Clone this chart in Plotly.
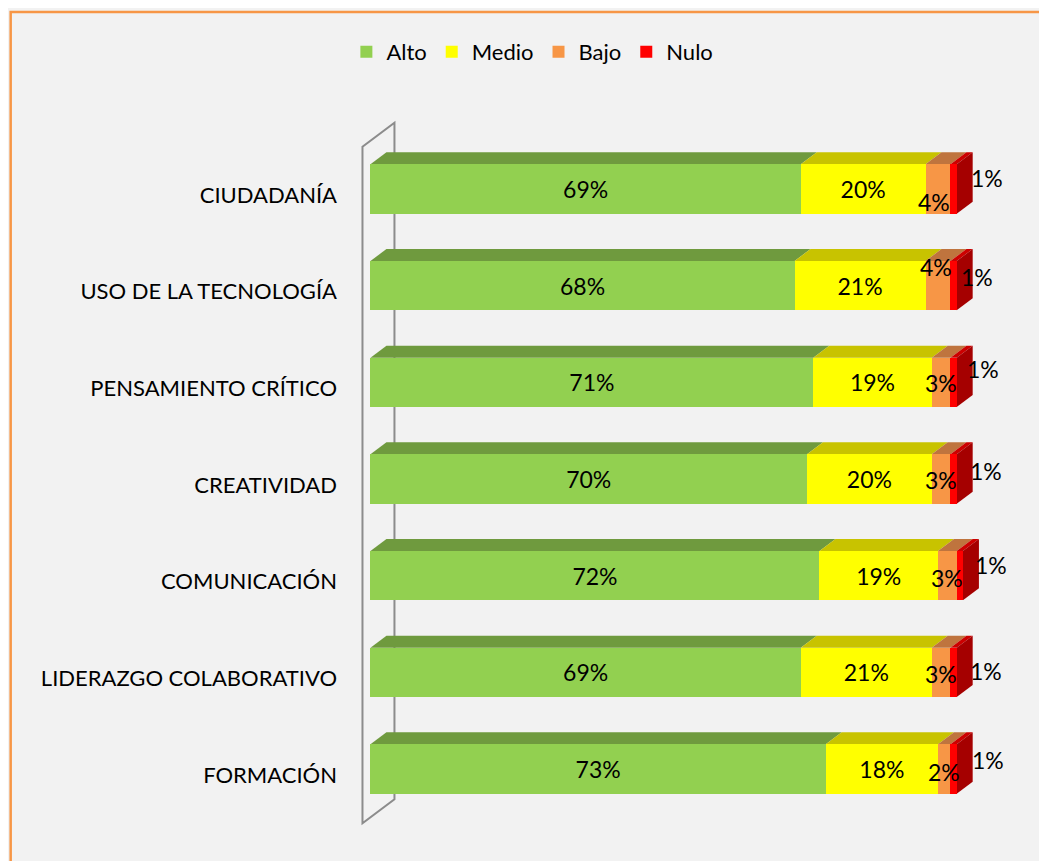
import plotly.graph_objects as go

# data (bottom to top, as drawn)
categories = ["FORMACIÓN", "LIDERAZGO COLABORATIVO", "COMUNICACIÓN", "CREATIVIDAD",
              "PENSAMIENTO CRÍTICO", "USO DE LA TECNOLOGÍA", "CIUDADANÍA"]
alto = [73, 69, 72, 70, 71, 68, 69]
medio = [18, 21, 19, 20, 19, 21, 20]
bajo = [2, 3, 3, 3, 3, 4, 4]
nulo = [1, 1, 1, 1, 1, 1, 1]

series = [("Alto", alto, "#92d050", "#6f9a3e"),
          ("Medio", medio, "#ffff00", "#c8c300"),
          ("Bajo", bajo, "#f79646", "#bf743e"),
          ("Nulo", nulo, "#ff0000", "#cc0000")]
SIDE_COLOR = "#a50000"

# page geometry (pixels); the page body adds an 8px margin
OFF = 8
W, H = 1047, 861 - OFF
X0_PX, PPU = 370 - OFF, 6.24    # where 0% sits, pixels per percent
XMIN, XMAX = -2, 108
TICK0_PX, PPY = 775 - OFF, 96.67  # first category position, pixels per category
YMIN, YMAX = -0.6, 6.9

ml = X0_PX + XMIN * PPU
pw = (XMAX - XMIN) * PPU
mr = W - ml - pw
mb = H - (TICK0_PX - YMIN * PPY)
ph = (YMAX - YMIN) * PPY
mt = H - mb - ph

# 3d depth of the wall and of the bars, in data units
WDX, WDY = 32 / PPU, 24 / PPY
BDX, BDY = WDX / 2, WDY / 2
BAR_W = 0.51
pos = list(range(len(categories)))
ybar = [p + WDY / 4 for p in pos]

FONT = "Lato, Calibri, sans-serif"

fig = go.Figure()
for name, vals, col, _ in series:
    show_txt = name in ("Alto", "Medio")
    fig.add_trace(go.Bar(
        y=ybar, x=vals, orientation="h", name=name, width=BAR_W,
        marker=dict(color=col, line=dict(width=0)),
        text=[f"{v}%" for v in vals] if show_txt else None,
        textposition="inside" if show_txt else "none",
        insidetextanchor="middle", constraintext="none",
        textfont=dict(size=23, color="black", family=FONT),
        hoverinfo="skip",
    ))

def to_paper(px, py):
    px, py = px - OFF, py - OFF
    return (px - ml) / pw, (H - mb - py) / ph

shapes = []
# chart area background with orange border
bx0, by1 = to_paper(10, 12)
bx1, by0 = to_paper(1070, 880)
shapes.append(dict(type="rect", xref="paper", yref="paper", x0=bx0, x1=bx1, y0=by0, y1=by1,
                   fillcolor="#f2f2f2", line=dict(color="#f79646", width=2.5), layer="below"))

# left wall
fx = -WDX / 4
yl, yh = -0.5, len(categories) - 0.5
wall = (f"M{fx},{yl} L{fx},{yh} L{fx + WDX},{yh + WDY} "
        f"L{fx + WDX},{yl + WDY} Z")
shapes.append(dict(type="path", xref="x", yref="y", path=wall,
                   line=dict(color="#8c8c8c", width=2), layer="below"))

# top faces and right side of each bar
for i, yc in enumerate(ybar):
    yt, yb = yc + BAR_W / 2, yc - BAR_W / 2
    start = 0
    for name, vals, _, top in series:
        end = start + vals[i]
        shapes.append(dict(
            type="path", xref="x", yref="y", layer="below", line=dict(width=0), fillcolor=top,
            path=f"M{start},{yt} L{end},{yt} L{end + BDX},{yt + BDY} L{start + BDX},{yt + BDY} Z"))
        start = end
    shapes.append(dict(
        type="path", xref="x", yref="y", layer="below", line=dict(width=0), fillcolor=SIDE_COLOR,
        path=f"M{start},{yb} L{start},{yt} L{start + BDX},{yt + BDY} L{start + BDX},{yb + BDY} Z"))

# labels for the thin segments
bajo_shift = [(0, -3), (0, -2), (0, -2), (0, -1), (0, -1), (-2, 19), (-4, -13)]
nulo_shift = [(31, 9), (29, 1), (28, 11), (29, 8), (26, 13), (20, 9), (30, 11)]
annotations = []
for i, yc in enumerate(ybar):
    base = alto[i] + medio[i]
    annotations.append(dict(x=base + bajo[i] / 2, y=yc, text=f"{bajo[i]}%", showarrow=False,
                            xshift=bajo_shift[i][0], yshift=bajo_shift[i][1],
                            font=dict(size=23, color="black", family=FONT)))
    annotations.append(dict(x=base + bajo[i] + nulo[i], y=yc, text=f"{nulo[i]}%", showarrow=False,
                            xshift=nulo_shift[i][0], yshift=nulo_shift[i][1],
                            font=dict(size=23, color="black", family=FONT)))

lx, ly = to_paper(532, 52)
fig.update_layout(
    width=W, height=H, barmode="stack",
    margin=dict(l=ml, r=mr, t=mt, b=mb, pad=0),
    paper_bgcolor="#f2f2f2", plot_bgcolor="rgba(0,0,0,0)",
    font=dict(family=FONT, size=22, color="black"),
    shapes=shapes, annotations=annotations,
    legend=dict(orientation="h", x=lx, y=ly, xanchor="center", yanchor="middle",
                font=dict(size=22), bgcolor="rgba(0,0,0,0)", traceorder="normal"),
    xaxis=dict(range=[XMIN, XMAX], visible=False),
    yaxis=dict(range=[YMIN, YMAX], tickvals=pos, ticktext=categories, showgrid=False,
               zeroline=False, showline=False, ticks="", ticklabelstandoff=20,
               tickfont=dict(size=22, family=FONT)),
)

fig.write_html("out.html")
